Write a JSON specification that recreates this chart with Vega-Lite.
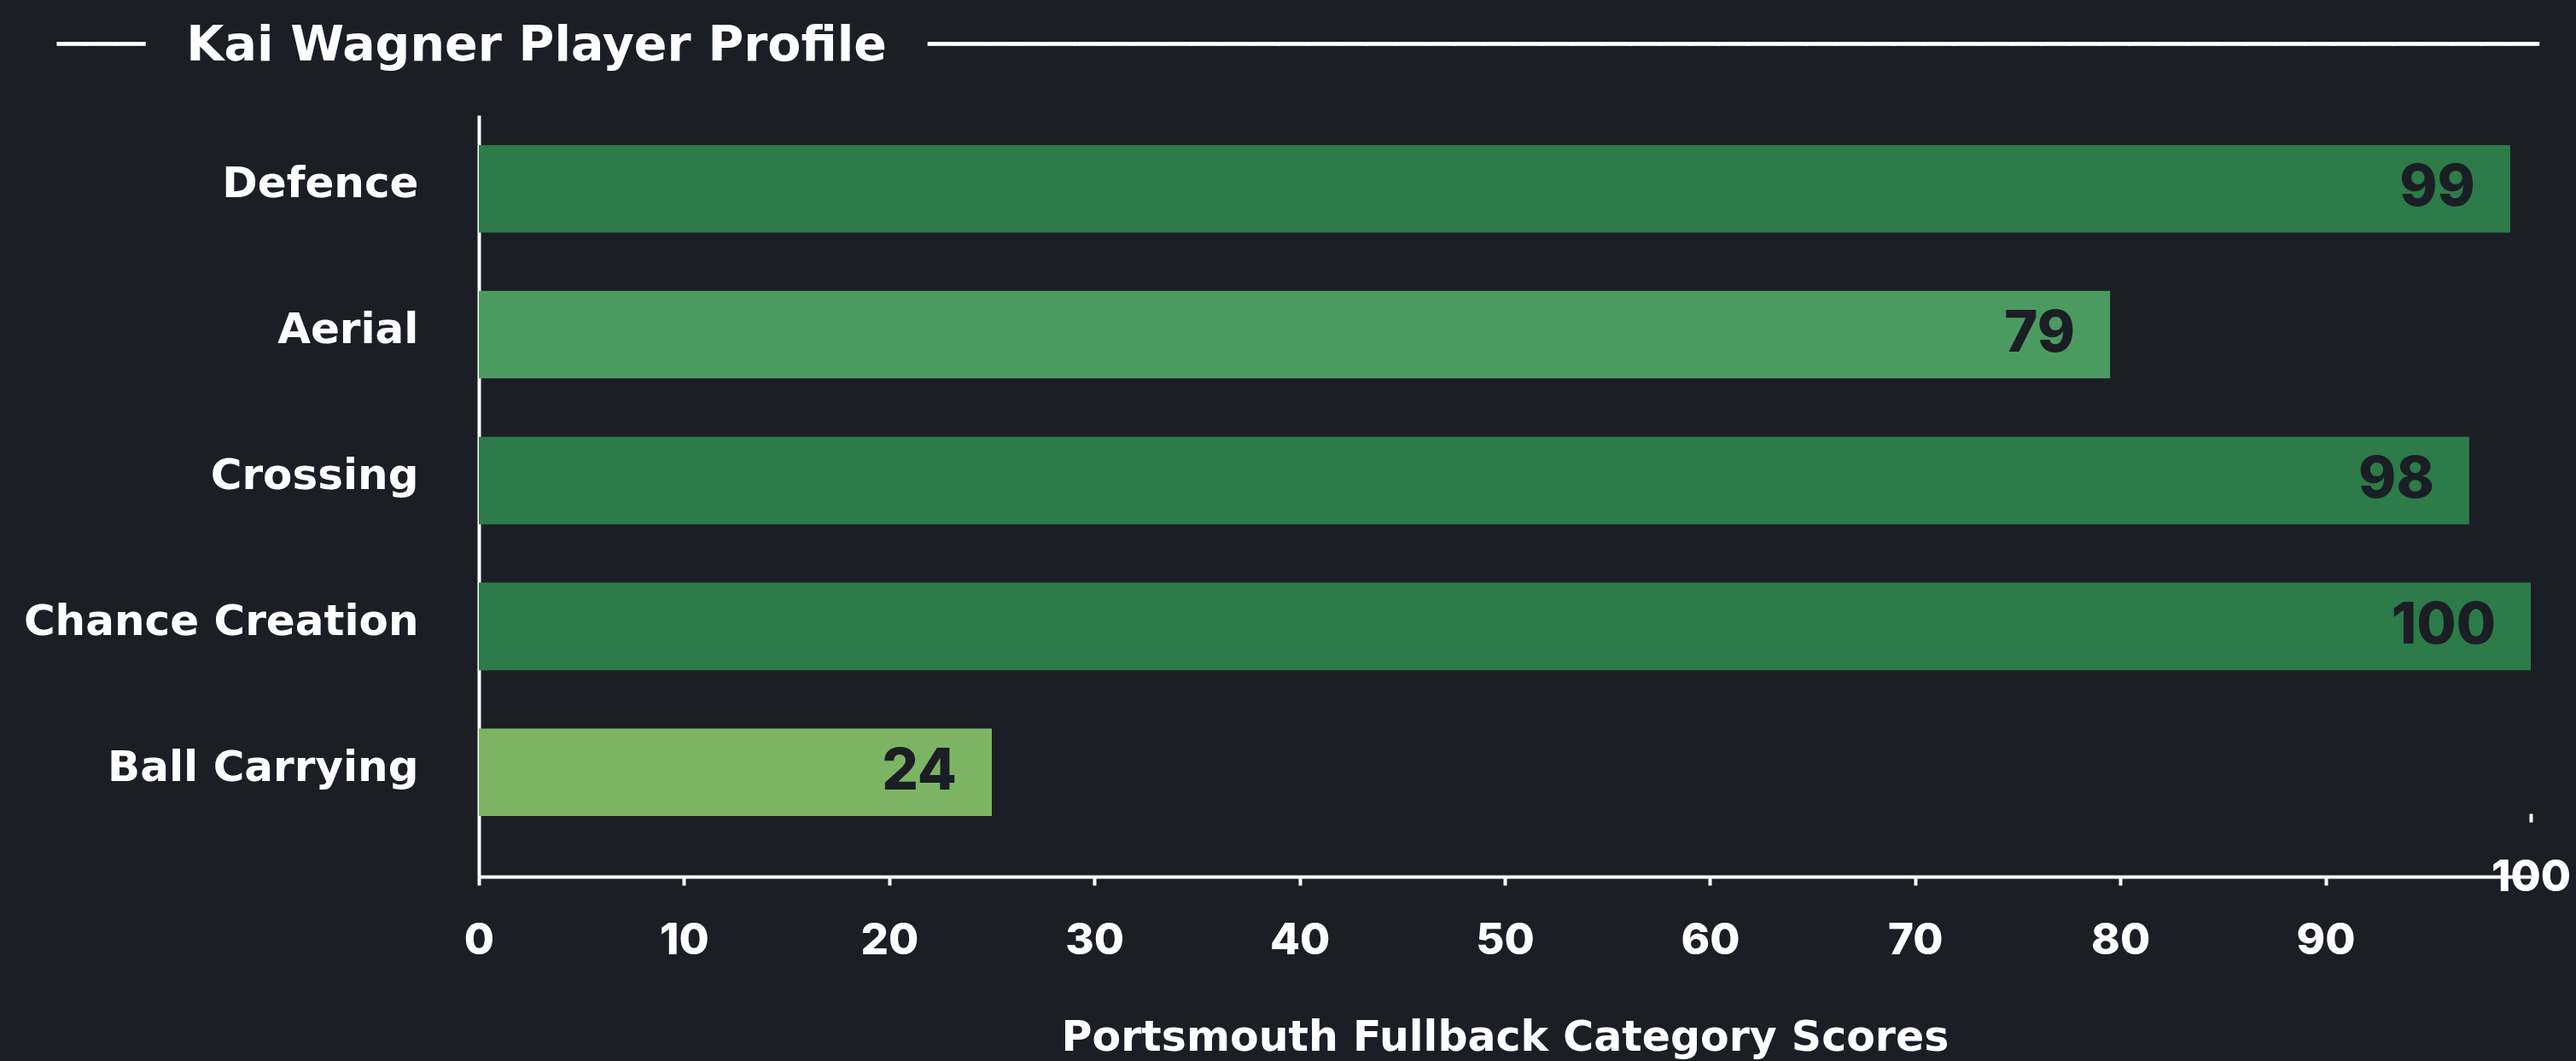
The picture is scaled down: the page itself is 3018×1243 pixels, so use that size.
{
  "$schema": "https://vega.github.io/schema/vega-lite/v6.json",
  "width": 2404,
  "height": 892,
  "autosize": {"type": "none"},
  "padding": {"left": 561, "top": 135, "right": 53, "bottom": 216},
  "background": "#1b1e25",
  "config": {"view": {"stroke": null}, "font": "Inter", "axis": {"grid": false}},
  "title": {
    "text": "───\u2002\u00a0Kai Wagner Player Profile\u2002\u00a0───────────────────────────────────────────────────────",
    "anchor": "start",
    "frame": "group",
    "dx": -494,
    "dy": 56,
    "baseline": "alphabetic",
    "offset": 63,
    "fontSize": 57,
    "fontWeight": "bold",
    "color": "#ffffff",
    "font": "DejaVu Sans"
  },
  "data": {
    "values": [
      {"category": "Defence", "score": 99, "label": "99"},
      {"category": "Aerial\u2005", "score": 79.5, "label": "79"},
      {"category": "Crossing", "score": 97, "label": "98"},
      {"category": "Chance Creation", "score": 100, "label": "100"},
      {"category": "Ball Carrying", "score": 25, "label": "24"}
    ]
  },
  "layer": [
    {
      "mark": {"type": "bar"},
      "encoding": {
        "y": {
          "field": "category",
          "type": "nominal",
          "sort": null,
          "scale": {"paddingInner": 0.4, "paddingOuter": 0.31, "align": 0.33},
          "axis": {
            "title": null,
            "domain": true,
            "domainColor": "#ffffff",
            "domainWidth": 4,
            "ticks": false,
            "tickSize": 0,
            "labelColor": "#ffffff",
            "labelFont": "DejaVu Sans",
            "labelFontSize": 50,
            "labelFontWeight": "bold",
            "labelPadding": 71,
            "labelLimit": 1000,
            "labelOffset": -5
          }
        },
        "x": {
          "field": "score",
          "type": "quantitative",
          "scale": {"domain": [0, 100], "nice": false},
          "axis": {
            "orient": "bottom",
            "values": [0, 10, 20, 30, 40, 50, 60, 70, 80, 90],
            "title": "Portsmouth Fullback Category Scores",
            "titleFont": "DejaVu Sans",
            "titleColor": "#ffffff",
            "titleFontSize": 49,
            "titleFontWeight": "bold",
            "titlePadding": 64,
            "domainColor": "#ffffff",
            "domainWidth": 4,
            "tickColor": "#ffffff",
            "tickWidth": 4,
            "tickSize": 10,
            "labelColor": "#ffffff",
            "labelFontSize": 51,
            "labelFontWeight": 800,
            "labelPadding": 40,
            "labelFlush": false
          }
        },
        "color": {
          "field": "score",
          "type": "quantitative",
          "scale": {"type": "threshold", "domain": [50, 90], "range": ["#7db464", "#4b9b61", "#2c7b49"]},
          "legend": null
        }
      }
    },
    {
      "mark": {"type": "text", "align": "right", "baseline": "middle", "dx": -41, "fontSize": 67, "fontWeight": 800, "color": "#1b1e25"},
      "encoding": {
        "y": {"field": "category", "type": "nominal", "sort": null},
        "x": {
          "field": "score",
          "type": "quantitative",
          "axis": {
            "orient": "bottom",
            "values": [100],
            "offset": -74,
            "domain": false,
            "title": null,
            "tickColor": "#ffffff",
            "tickWidth": 4,
            "tickSize": 10,
            "labelColor": "#ffffff",
            "labelFontSize": 51,
            "labelFontWeight": 800,
            "labelPadding": 40,
            "labelFlush": false
          }
        },
        "text": {"field": "label"}
      }
    }
  ],
  "resolve": {"axis": {"x": "independent"}}
}
